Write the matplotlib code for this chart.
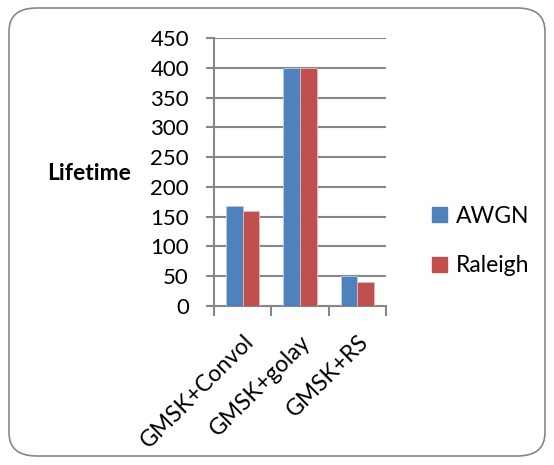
import numpy as np
import matplotlib.pyplot as plt
from matplotlib.patches import FancyBboxPatch, Patch

plt.rcParams['font.family'] = ['Lato', 'DejaVu Sans']

categories = ['GMSK+Convol', 'GMSK+golay', 'GMSK+RS']
awgn = [168, 400, 50]
raleigh = [160, 400, 40]
series_names = ['AWGN', 'Raleigh']
y_ticks = list(range(0, 451, 50))

BLUE = '#4F81BD'
RED = '#C0504D'
GRID = '#878787'

Figure = plt.figure(figsize=(5.54, 4.65), dpi=100)
Axes = Figure.add_axes([214/554, 1-306/465, (386-214)/554, (306-38)/465])

x = np.arange(len(categories))
w = 0.288
Axes.bar(x - w/2, awgn, w, color=BLUE, edgecolor='#B9CDE5', linewidth=0.6, zorder=3)
Axes.bar(x + w/2, raleigh, w, color=RED, edgecolor='#E6B9B8', linewidth=0.6, zorder=3)

Axes.set_xlim(-0.5, len(categories) - 0.5)
Axes.set_ylim(0, 450)
Axes.set_yticks(y_ticks)
Axes.yaxis.grid(True, color=GRID, linewidth=1.5, zorder=0)
for s in ['top', 'right']:
    Axes.spines[s].set_visible(False)
for s in ['left', 'bottom']:
    Axes.spines[s].set_color(GRID)
    Axes.spines[s].set_linewidth(1.5)

Axes.tick_params(axis='y', length=6, width=1.5, color=GRID, labelsize=16, pad=12)
Axes.set_xticks(x)
Axes.set_xticklabels(categories, rotation=45, ha='right', va='top', rotation_mode='anchor', fontsize=16.5)
Axes.tick_params(axis='x', which='major', length=0, pad=18)
Axes.set_xticks(np.arange(-0.5, len(categories)), minor=True)
Axes.tick_params(axis='x', which='minor', length=7, width=1.5, color=GRID)

Figure.text(47/554, 1-173/465, 'Lifetime', fontsize=16.5, fontweight='bold', ha='left', va='center')

handles = [Patch(color=BLUE), Patch(color=RED)]
Figure.legend(handles, series_names, loc='center left', bbox_to_anchor=(411/554, 1-241/465),
              frameon=False, fontsize=16.5, handlelength=0.65, handleheight=0.65,
              handletextpad=0.4, labelspacing=1.25)

box = FancyBboxPatch((9/554, 9/465), 536/554, 448/465, boxstyle='round,pad=0,rounding_size=0.05',
                     transform=Figure.transFigure, facecolor='none', edgecolor='#868686', linewidth=1.2)
Figure.patches.append(box)

Figure.savefig('out.png', dpi=100)
plt.close(Figure)
